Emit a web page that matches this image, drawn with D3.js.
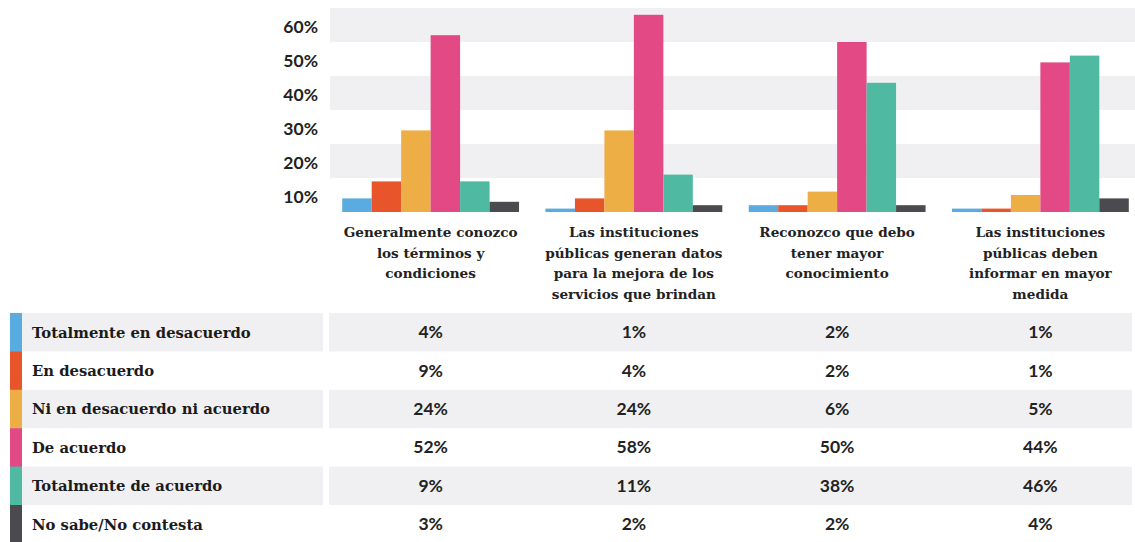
<!DOCTYPE html>
<html>
<head>
<meta charset="utf-8">
<script src="https://cdn.jsdelivr.net/npm/d3@7"></script>
<style>
  body { margin: 0; background: #fff; }
  svg { display: block; }
</style>
</head>
<body>
<script>
var width = 1135,
  height = 542;

// categories (x groups), each split in the lines shown under the bars
var categories = [
  ["Generalmente conozco", "los términos y", "condiciones"],
  ["Las instituciones", "públicas generan datos", "para la mejora de los", "servicios que brindan"],
  ["Reconozco que debo", "tener mayor", "conocimiento"],
  ["Las instituciones", "públicas deben", "informar en mayor", "medida"]
];

var series = [
  "Totalmente en desacuerdo",
  "En desacuerdo",
  "Ni en desacuerdo ni acuerdo",
  "De acuerdo",
  "Totalmente de acuerdo",
  "No sabe/No contesta"
];

// one array per series, one value per category (%)
var totDesacuerdo = [4, 1, 2, 1];
var enDesacuerdo = [9, 4, 2, 1];
var niNi = [24, 24, 6, 5];
var deAcuerdo = [52, 58, 50, 44];
var totAcuerdo = [9, 11, 38, 46];
var noSabe = [3, 2, 2, 4];

var values = [totDesacuerdo, enDesacuerdo, niNi, deAcuerdo, totAcuerdo, noSabe];

var tickValues = [10, 20, 30, 40, 50, 60];

var colors = ["#5aabe0", "#e8552a", "#ecae45", "#e24985", "#4fb9a1", "#4a4a4f"];

var catKeys = categories.map(function (c) { return c.join(" "); });

var svg = d3.select("body")
  .append("svg")
  .attr("width", width)
  .attr("height", height);

var y = d3.scaleLinear()
  .domain([0, 60])
  .range([212, 8]);

var x0 = d3.scaleBand()
  .domain(catKeys)
  .range([329, 1142])
  .paddingInner(0.13)
  .paddingOuter(0.065);

var x1 = d3.scaleBand()
  .domain(series)
  .range([0, x0.bandwidth()]);

// striped background bands
svg.append("g")
  .selectAll("rect")
  .data(d3.range(6))
  .enter()
  .append("rect")
  .attr("x", 330)
  .attr("width", width - 330)
  .attr("y", d => y((d + 1) * 10))
  .attr("height", d => y(d * 10) - y((d + 1) * 10))
  .attr("fill", d => d % 2 ? "#f0f0f2" : "#fff");

// y labels sit in the middle of each band
var axis = svg.append("g")
  .attr("transform", "translate(318," + ((y(0) - y(10)) / 2 + 2) + ")")
  .call(d3.axisLeft(y).tickValues(tickValues).tickSize(0).tickPadding(0).tickFormat(d => d + "%"));

axis.select(".domain").remove();
axis.selectAll("text")
  .style("font-family", "Lato")
  .style("font-weight", "bold")
  .style("font-size", "17.5px")
  .style("fill", "#222");

// bars
var groups = svg.append("g")
  .selectAll("g")
  .data(catKeys)
  .enter()
  .append("g")
  .attr("transform", d => "translate(" + x0(d) + ",0)");

groups.selectAll("rect")
  .data((d, i) => series.map((s, j) => ({ s: s, v: values[j][i], c: colors[j] })))
  .enter()
  .append("rect")
  .attr("x", d => x1(d.s))
  .attr("width", x1.bandwidth())
  .attr("y", d => y(d.v))
  .attr("height", d => y(0) - y(d.v))
  .attr("fill", d => d.c);

// category labels
svg.append("g")
  .selectAll("text")
  .data(categories)
  .enter()
  .append("text")
  .attr("text-anchor", "middle")
  .attr("x", (d, i) => x0(catKeys[i]) + x0.bandwidth() / 2)
  .attr("y", 237)
  .style("font-family", "DejaVu Serif")
  .style("font-weight", "bold")
  .style("font-size", "13.6px")
  .style("fill", "#222")
  .selectAll("tspan")
  .data(d => d)
  .enter()
  .append("tspan")
  .attr("x", function () { return this.parentNode.getAttribute("x"); })
  .attr("dy", (d, i) => i ? 20.5 : 0)
  .text(d => d);

// table
var rowTop = 313,
  rowH = 38.4;

var rows = svg.append("g")
  .selectAll("g")
  .data(series)
  .enter()
  .append("g")
  .attr("transform", (d, i) => "translate(0," + (rowTop + i * rowH) + ")");

rows.filter((d, i) => i % 2 === 0)
  .append("rect")
  .attr("x", 22)
  .attr("width", 301)
  .attr("height", rowH)
  .attr("fill", "#f0f0f2");

rows.filter((d, i) => i % 2 === 0)
  .append("rect")
  .attr("x", 329)
  .attr("width", 803)
  .attr("height", rowH)
  .attr("fill", "#f0f0f2");

rows.append("rect")
  .attr("x", 10)
  .attr("width", 12)
  .attr("height", rowH + 0.5)
  .attr("fill", (d, i) => colors[i]);

rows.append("text")
  .attr("x", 32)
  .attr("y", rowH / 2 + 5.5)
  .style("font-family", "DejaVu Serif")
  .style("font-weight", "bold")
  .style("font-size", "14.8px")
  .style("fill", "#1b1b1b")
  .text(d => d);

rows.selectAll(".val")
  .data((d, i) => values[i].map((v, k) => ({ v: v, k: catKeys[k] })))
  .enter()
  .append("text")
  .attr("class", "val")
  .attr("text-anchor", "middle")
  .attr("x", d => x0(d.k) + x0.bandwidth() / 2)
  .attr("y", rowH / 2 + 6)
  .style("font-family", "Lato")
  .style("font-weight", "bold")
  .style("font-size", "17.5px")
  .style("fill", "#222")
  .text(d => d.v + "%");
</script>
</body>
</html>
